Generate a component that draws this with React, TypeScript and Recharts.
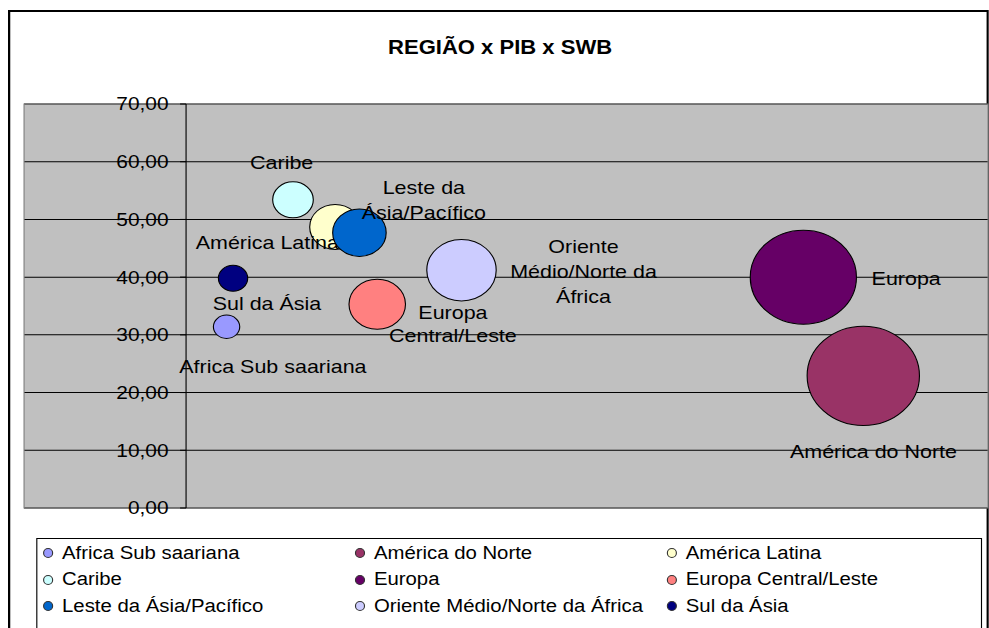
import React from 'react';
import { ScatterChart, Scatter, XAxis, YAxis, ZAxis, CartesianGrid, ReferenceLine, ReferenceArea } from 'recharts';

// series, in legend order
const regions = [
  'Africa Sub saariana',
  'América do Norte',
  'América Latina',
  'Caribe',
  'Europa',
  'Europa Central/Leste',
  'Leste da Ásia/Pacífico',
  'Oriente Médio/Norte da África',
  'Sul da Ásia',
];
const pib = [2.5, 41.8, 9.2, 6.6, 38.1, 11.8, 10.7, 17.0, 2.9];
const swb = [31.4, 22.9, 48.7, 53.4, 40.0, 35.3, 47.7, 41.2, 39.8];
const bubbleSize = [5.5, 100, 20.5, 13.1, 89.4, 25.3, 22.7, 38.2, 6.8];
const yTicks = [0, 10, 20, 30, 40, 50, 60, 70];

const colors = ['#9999FF', '#993366', '#FFFFCC', '#CCFFFF', '#660066', '#FF8080', '#0066CC', '#CCCCFF', '#000080'];

// data label placement relative to the bubble centre
const labelSpec = [
  { dx: 41, dy: [40], lines: ['Africa Sub saariana'] },
  { dx: 9, dy: [76], lines: ['América do Norte'] },
  { dx: -60, dy: [15], lines: ['América Latina'] },
  { dx: -10, dy: [-37], lines: ['Caribe'] },
  { dx: 91, dy: [1], lines: ['Europa'] },
  { dx: 67, dy: [8, 31], lines: ['Europa', 'Central/Leste'] },
  { dx: 57, dy: [-45, -20], lines: ['Leste da', 'Ásia/Pacífico'] },
  { dx: 108, dy: [-24, 1, 26], lines: ['Oriente', 'Médio/Norte da', 'África'] },
  { dx: 30, dy: [25], lines: ['Sul da Ásia'] },
];

const X_MIN = -10;
const X_MAX = 49.5;
const W = 868;
const H = 620;
const M = { top: 96, right: 0.7, bottom: 120, left: 13.2 };
const Y_AXIS_W = 1;
const PLOT_LEFT = M.left + Y_AXIS_W;
const PLOT_W = W - PLOT_LEFT - M.right;
const AXIS_X = PLOT_LEFT + (PLOT_W * (0 - X_MIN)) / (X_MAX - X_MIN);

const fmt = (v: number) => v.toFixed(2).replace('.', ',');

const renderYTick = (props: any) => {
  const { y, payload } = props;
  return (
    <g>
      <line x1={AXIS_X - 5.3} x2={AXIS_X} y1={y} y2={y} stroke="#000" />
      <text x={AXIS_X - 15.5} y={y} dy="0.35em" textAnchor="end" fontSize={18.5} fill="#000">
        {fmt(payload.value)}
      </text>
    </g>
  );
};

const makeShape = (i: number) => (props: any) => {
  const { cx, cy } = props;
  const r = props.size != null ? Math.sqrt(props.size / Math.PI) : props.width / 2;
  const lab = labelSpec[i];
  return (
    <g>
      <circle cx={cx} cy={cy} r={r} fill={colors[i]} stroke="#000" strokeWidth={1} />
      <text textAnchor="middle" fontSize={19} fill="#000">
        {lab.lines.map((t, k) => (
          <tspan key={k} x={cx + lab.dx} y={cy + lab.dy[k]} dy="0.35em">
            {t}
          </tspan>
        ))}
      </text>
    </g>
  );
};

export default function App() {
  const series = regions.map((name, i) => ({
    name,
    color: colors[i],
    data: [{ x: pib[i], y: swb[i], z: bubbleSize[i] }],
  }));

  return (
    <>
      <style>{'html,body{margin:0;padding:0;overflow:hidden}'}</style>
      <div
        style={{
          position: 'absolute',
          left: 8,
          top: 8,
          width: W,
          height: H,
          transform: 'scale(1.13, 1)',
          transformOrigin: '0 0',
          overflow: 'hidden',
          fontFamily: '"Liberation Sans", Arial, sans-serif',
        }}
      >
        <div
          style={{
            position: 'absolute',
            left: 0,
            top: 2,
            width: W,
            height: 700,
            border: '2px solid #000',
            boxSizing: 'border-box',
          }}
        />
        <div
          style={{
            position: 'absolute',
            left: 0,
            top: 29.5,
            width: W + 3,
            textAlign: 'center',
            fontSize: 19.5,
            lineHeight: '19.5px',
            fontWeight: 'bold',
          }}
        >
          REGIÃO x PIB x SWB
        </div>
        <div style={{ position: 'absolute', left: 0, top: 0 }}>
          <ScatterChart width={W} height={H} margin={M}>
            <CartesianGrid vertical={false} stroke="#000" fill="#C0C0C0" fillOpacity={1} />
            <ReferenceArea x1={X_MIN} x2={X_MAX} y1={0} y2={70} fill="none" stroke="#808080" />
            <XAxis type="number" dataKey="x" domain={[X_MIN, X_MAX]} hide allowDataOverflow />
            <YAxis
              type="number"
              dataKey="y"
              domain={[0, 70]}
              ticks={yTicks}
              interval={0}
              width={Y_AXIS_W}
              axisLine={false}
              tickLine={false}
              tick={renderYTick}
              allowDataOverflow
            />
            <ZAxis type="number" dataKey="z" domain={[0, 100]} range={[0, 7760]} />
            <ReferenceLine x={0} stroke="#000" strokeWidth={1} />
            {series.map((s, i) => (
              <Scatter
                key={s.name}
                name={s.name}
                data={s.data}
                fill={s.color}
                shape={makeShape(i)}
                isAnimationActive={false}
              />
            ))}
          </ScatterChart>
        </div>
        <div
          style={{
            position: 'absolute',
            left: 24.8,
            top: 530,
            width: 837,
            height: 200,
            border: '1px solid #000',
            boxSizing: 'border-box',
            background: '#fff',
          }}
        >
          {series.map((s, i) => {
            const col = i % 3;
            const row = Math.floor(i / 3);
            return (
              <div
                key={s.name}
                style={{
                  position: 'absolute',
                  left: 5 + col * 276,
                  top: 14 + row * 26.5 - 11,
                  height: 22,
                  display: 'flex',
                  alignItems: 'center',
                  whiteSpace: 'nowrap',
                  fontSize: 18,
                }}
              >
                <span
                  style={{
                    display: 'inline-block',
                    width: 9,
                    height: 10,
                    borderRadius: '50%',
                    background: s.color,
                    border: '1px solid #333',
                    boxSizing: 'border-box',
                    marginRight: 8,
                  }}
                />
                <span>{s.name}</span>
              </div>
            );
          })}
        </div>
      </div>
    </>
  );
}
